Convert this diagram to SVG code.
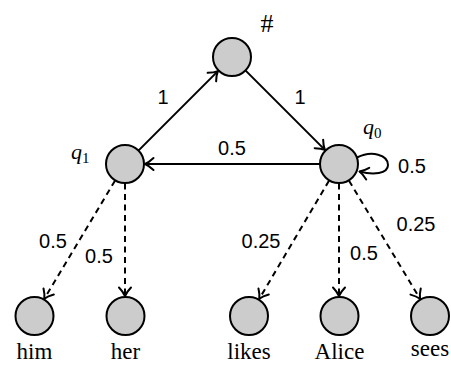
<svg xmlns="http://www.w3.org/2000/svg" width="451" height="365" viewBox="0 0 451 365">
<defs>
<marker id="arr" markerWidth="16" markerHeight="16" refX="12.5" refY="8" orient="auto" markerUnits="userSpaceOnUse">
<path d="M4,2 Q8.5,6.3 12.5,8 Q8.5,9.7 4,14" fill="none" stroke="#000" stroke-width="2" stroke-linecap="round" stroke-linejoin="round"/>
</marker>
</defs>
<style>
.node{fill:#cccccc;stroke:#000;stroke-width:2}
.e{fill:none;stroke:#000;stroke-width:2;marker-end:url(#arr)}
.d{stroke-dasharray:6,4.5}
.lbl{font-family:'Liberation Sans',Arial,sans-serif;font-size:20px;text-anchor:middle;fill:#000}
.w{font-family:'Liberation Serif','Times New Roman',serif;font-size:23px;text-anchor:middle;fill:#000}
.q{font-family:'Liberation Serif','Times New Roman',serif;font-size:22px;font-style:italic;fill:#000}
.sub{font-style:normal;font-size:15px}
</style>
<g id="connectors">
<line class="e" x1="138.4" y1="150.6" x2="217.9" y2="71.1"/>
<line class="e" x1="245.4" y1="70.4" x2="324.9" y2="149.9"/>
<line class="e" x1="320" y1="164" x2="145" y2="164"/>
<path class="e" d="M357,157.5 C372,150 388,155 388,165 C388,174 373,175 359.5,171.5"/>
<line class="e d" x1="115" y1="180.7" x2="44.3" y2="298.8"/>
<line class="e d" x1="125" y1="183.5" x2="125" y2="296"/>
<line class="e d" x1="329" y1="180.7" x2="259.3" y2="298.8"/>
<line class="e d" x1="339" y1="183.5" x2="339" y2="296"/>
<line class="e d" x1="349" y1="180.7" x2="420" y2="298.8"/>
<text class="lbl" x="163" y="104">1</text>
<text class="lbl" x="300" y="104">1</text>
<text class="lbl" x="232" y="155">0.5</text>
<text class="lbl" x="412" y="173">0.5</text>
<text class="lbl" x="53" y="248">0.5</text>
<text class="lbl" x="99" y="263">0.5</text>
<text class="lbl" x="261" y="248">0.25</text>
<text class="lbl" x="364" y="260">0.5</text>
<text class="lbl" x="416" y="231">0.25</text>
</g>
<g id="hash">
<circle class="node" cx="232" cy="57" r="19"/>
<text x="267" y="32" font-family="'Liberation Serif',serif" font-size="26" text-anchor="middle">#</text>
</g>
<g id="q1">
<circle class="node" cx="125" cy="164" r="19"/>
<text class="q" x="71" y="159">q<tspan class="sub" dy="4">1</tspan></text>
</g>
<g id="q0">
<circle class="node" cx="339" cy="164" r="19"/>
<text class="q" x="363" y="134">q<tspan class="sub" dy="4">0</tspan></text>
</g>
<g id="him">
<circle class="node" cx="34.5" cy="316" r="19"/>
<text class="w" x="34.5" y="359" font-family="'Liberation Serif',serif">him</text>
</g>
<g id="her">
<circle class="node" cx="125.5" cy="316" r="19"/>
<text class="w" x="125.5" y="359" font-family="'Liberation Serif',serif">her</text>
</g>
<g id="likes">
<circle class="node" cx="249" cy="316" r="19"/>
<text class="w" x="249" y="359" font-family="'Liberation Serif',serif">likes</text>
</g>
<g id="Alice">
<circle class="node" cx="339.5" cy="316" r="19"/>
<text class="w" x="339.5" y="359" font-family="'Liberation Serif',serif">Alice</text>
</g>
<g id="sees">
<circle class="node" cx="430" cy="316" r="19"/>
<text class="w" x="430" y="356" font-family="'Liberation Serif',serif">sees</text>
</g>
</svg>
